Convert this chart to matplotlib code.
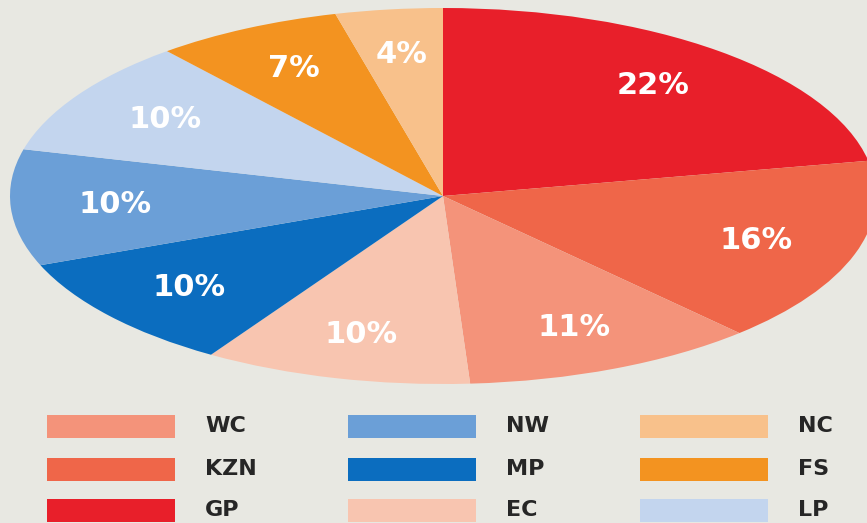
import matplotlib
matplotlib.use("Agg")
import matplotlib.pyplot as plt
from matplotlib.patches import Rectangle

# Data (clockwise from 12 o'clock)
provinces = ["GP", "KZN", "WC", "EC", "MP", "NW", "LP", "FS", "NC"]
shares = [22, 16, 11, 10, 10, 10, 10, 7, 4]
colors = ["#e81f2a", "#ef6649", "#f4937a", "#f8c5b0", "#0b6dbf",
          "#6b9fd7", "#c3d5ee", "#f39320", "#f8c18b"]
legend_order = ["WC", "KZN", "GP", "NW", "MP", "EC", "NC", "FS", "LP"]

W, H = 867, 523
bg = "#e8e8e2"
fig = plt.figure(figsize=(W / 100, H / 100), dpi=100, facecolor=bg)

# pie axes: ellipse spanning x 10..876, y 8..384 (pixels from top)
x0, x1, yt, yb = 10, 876, 8, 384
ax = fig.add_axes([x0 / W, (H - yb) / H, (x1 - x0) / W, (yb - yt) / H])
ax.set_facecolor(bg)
wedges, texts, autotexts = ax.pie(
    shares, colors=colors, startangle=90, counterclock=False,
    autopct=lambda p: f"{p:.0f}%", pctdistance=0.76,
    wedgeprops=dict(edgecolor="none", linewidth=0),
    textprops=dict(color="white", fontsize=22, fontweight="bold",
                   family="DejaVu Sans"))
ax.set_aspect("auto")
ax.set_xlim(-1, 1)
ax.set_ylim(-1, 1)
ax.axis("off")

# legend drawn manually in pixel layout
col_x = [47, 348, 640]
row_y = [426, 469, 510]
pw, ph = 128, 23
cmap = dict(zip(provinces, colors))
for i, name in enumerate(legend_order):
    c, r = i // 3, i % 3
    px, py = col_x[c], row_y[r]
    fig.add_artist(Rectangle(((px) / W, (H - py - ph / 2) / H), pw / W, ph / H,
                             transform=fig.transFigure, facecolor=cmap[name],
                             edgecolor="none"))
    fig.text((px + pw + 30) / W, (H - py) / H, name, ha="left", va="center",
             fontsize=16, fontweight="bold", color="#262626",
             family="DejaVu Sans")

fig.savefig("out.png", dpi=100, facecolor=bg)
